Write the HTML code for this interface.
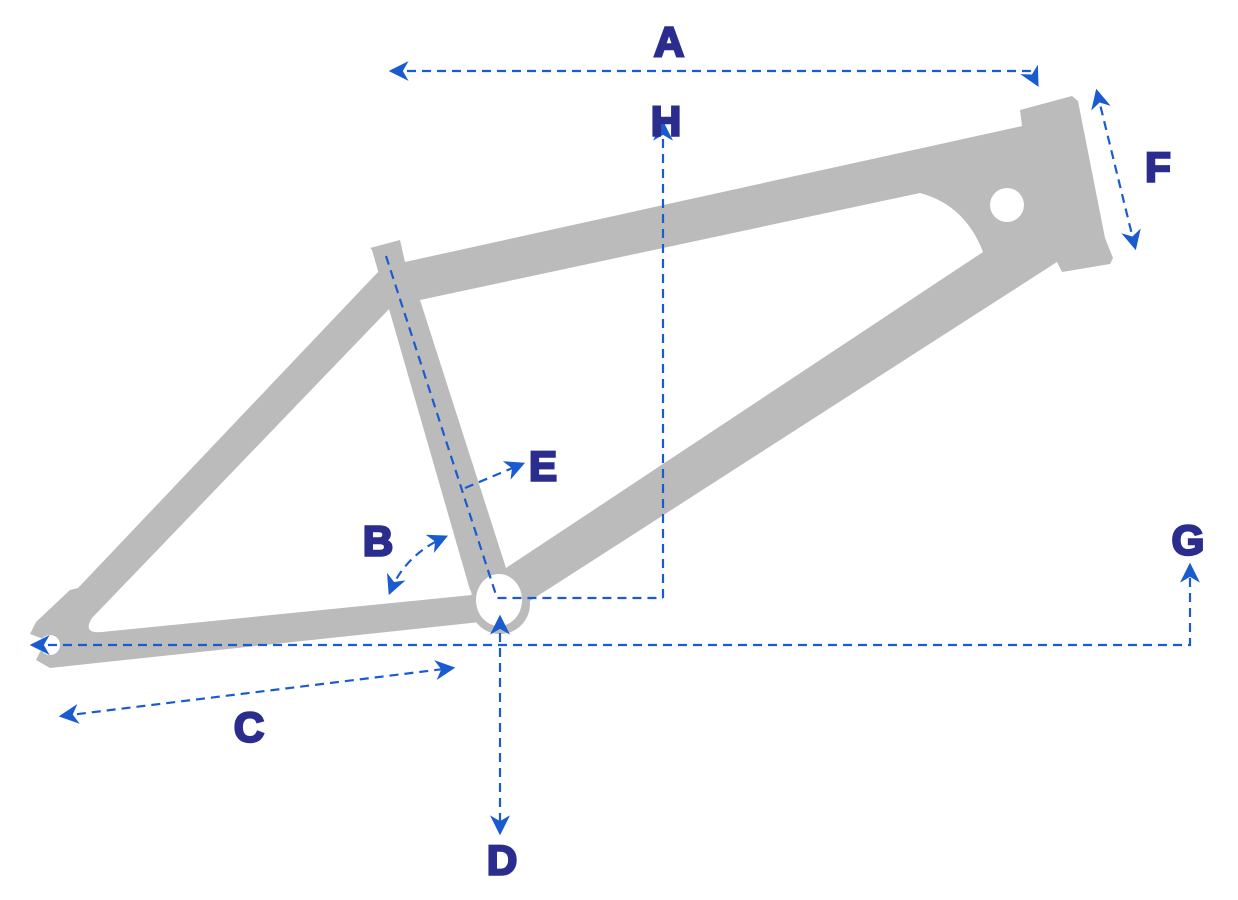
<!DOCTYPE html>
<html><head><style>
html,body{margin:0;padding:0;background:#fff;}
svg{display:block;}
text{font-family:"Liberation Sans",sans-serif;font-weight:bold;fill:#2b2d8e;stroke:#2b2d8e;stroke-width:2.5px;font-size:42px;text-anchor:middle;dominant-baseline:central;}
</style></head><body>
<svg width="1238" height="900" viewBox="0 0 1238 900">
<defs>
<marker id="ar" viewBox="0 0 12 12" refX="10" refY="6" markerWidth="20" markerHeight="20" markerUnits="userSpaceOnUse" orient="auto-start-reverse">
<path d="M0,0 L12,6 L0,12 L3.5,6 Z" fill="#1a5cd0"/>
</marker>
</defs>
<g fill="#bbbbbb">
<polygon points="378,272 78,588 70,590 36,622 30,634 46,640 40,652 36,660 50,668 480,622 478,588 398,300"/>
</g>
<path d="M390,308 L92,618 Q82,634 102,632 L472,595 Z" fill="#fff"/>
<circle cx="50" cy="645" r="10" fill="#fff"/>
<polygon points="30,640 50,637 50,652 30,650" fill="#fff"/>
<polygon fill="#bbbbbb" points="370,248 400,240 405,262 1022,126 1020,110 1072,96 1078,101 1105,238 1113,258 1110,264 1062,272 1057,262 522,606 470,590 372,250"/>
<path d="M420,300 L920,193 Q965,205 983,252 L506,568 Z" fill="#fff"/>
<circle cx="1007" cy="205" r="17" fill="#fff"/>
<circle cx="500" cy="604" r="30" fill="#bbbbbb"/>
<ellipse cx="499" cy="600" rx="23" ry="26" fill="#fff"/>
<g stroke="#1a5cd0" stroke-width="2.2" stroke-dasharray="9,6" fill="none">
<path d="M392,71 L1030,71 L1037,84" marker-start="url(#ar)" marker-end="url(#ar)"/>
<path d="M663,598 L663,124" marker-end="url(#ar)"/>
<path d="M386,256 L497,598 L663,598"/>
<path d="M465,488 L522,464" marker-end="url(#ar)"/>
<path d="M390,592 Q405,555 445,537" marker-start="url(#ar)" marker-end="url(#ar)"/>
<path d="M62,716 L452,668" marker-start="url(#ar)" marker-end="url(#ar)"/>
<path d="M500,618 L500,832" marker-start="url(#ar)" marker-end="url(#ar)"/>
<path d="M33,645 L1190,645 L1190,566" marker-start="url(#ar)" marker-end="url(#ar)"/>
<path d="M1097,92 L1135,247" marker-start="url(#ar)" marker-end="url(#ar)"/>
</g>
<text x="669" y="42">A</text>
<text x="666" y="121">H</text>
<text x="1158" y="167">F</text>
<text x="543" y="466">E</text>
<text x="378" y="541">B</text>
<text x="1188" y="540">G</text>
<text x="249" y="727">C</text>
<text x="502" y="860">D</text>
</svg>
</body></html>
